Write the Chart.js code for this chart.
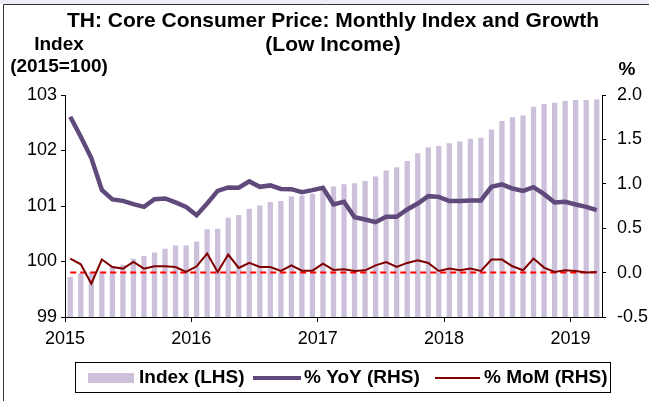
<!DOCTYPE html>
<html>
<head>
<meta charset="utf-8">
<script src="https://cdn.jsdelivr.net/npm/chart.js@4/dist/chart.umd.min.js"></script>
<style>
  html, body { margin: 0; padding: 0; background: #fff; }
  #wrap { position: relative; width: 649px; height: 401px; }
</style>
</head>
<body>
<div id="wrap"><canvas id="c" width="649" height="401"></canvas></div>
<script>
// ---- datos (ene 2015 - mar 2019, mensual) ----
const yearLabels = ["2015", "2016", "2017", "2018", "2019"];
const yearTickPos = [0, 12, 24, 36, 48];

const indexLHS = [
  99.72, 99.79, 99.81, 99.82, 99.92, 99.94, 100.05, 100.10, 100.16, 100.23,
  100.29, 100.29, 100.36, 100.58, 100.59, 100.79, 100.84, 100.95, 101.01, 101.07,
  101.09, 101.17, 101.19, 101.22, 101.28, 101.35, 101.39, 101.41, 101.45, 101.53,
  101.64, 101.70, 101.81, 101.95, 102.06, 102.08, 102.13, 102.16, 102.21, 102.23,
  102.38, 102.53, 102.60, 102.63, 102.79, 102.84, 102.86, 102.89, 102.91, 102.91, 102.92
];

const yoyRHS = [
  1.755, 1.53, 1.29, 0.93, 0.824, 0.808, 0.771, 0.74, 0.827, 0.835,
  0.79, 0.74, 0.647, 0.778, 0.92, 0.959, 0.955, 1.027, 0.966, 0.982,
  0.942, 0.94, 0.906, 0.929, 0.955, 0.767, 0.797, 0.624, 0.598, 0.568,
  0.628, 0.628, 0.711, 0.778, 0.861, 0.853, 0.805, 0.805, 0.812, 0.812,
  0.966, 0.993, 0.947, 0.92, 0.962, 0.883, 0.79, 0.797, 0.767, 0.74, 0.703
];

const momRHS = [
  0.158, 0.094, -0.125, 0.147, 0.063, 0.045, 0.12, 0.045, 0.071, 0.071,
  0.063, 0.007, 0.071, 0.214, 0.007, 0.203, 0.052, 0.109, 0.063, 0.063,
  0.018, 0.082, 0.022, 0.022, 0.101, 0.03, 0.037, 0.018, 0.026, 0.082,
  0.118, 0.063, 0.109, 0.139, 0.109, 0.018, 0.045, 0.026, 0.045, 0.018,
  0.147, 0.147, 0.071, 0.026, 0.158, 0.056, 0.007, 0.026, 0.018, 0.0, 0.007
];

const zeroRef = indexLHS.map(() => 0);

const C_BAR = "#CCC0DA", C_YOY = "#604A7B", C_MOM = "#800000", C_ZERO = "#FF0000";
const FONT = "'Liberation Sans', Arial, sans-serif";

// puntos centrados en cada mes (eje x lineal 0..51)
const pts = (arr) => arr.map((v, i) => ({ x: i + 0.5, y: v }));

// ---- textos fijos: marco, título, unidades, leyenda ----
const decor = {
  id: "decor",
  afterDraw(chart) {
    const ctx = chart.ctx;
    ctx.save();
    // marco
    ctx.fillStyle = "#eceef6";
    ctx.fillRect(0, 0, 649, 4);
    ctx.strokeStyle = "#333";
    ctx.lineWidth = 1;
    ctx.beginPath();
    ctx.moveTo(3.5, 401); ctx.lineTo(3.5, 4.5); ctx.lineTo(649, 4.5);
    ctx.stroke();

    ctx.fillStyle = "#000";
    ctx.textBaseline = "middle";
    ctx.textAlign = "center";
    ctx.font = "bold 21px " + FONT;
    ctx.fillText("TH: Core Consumer Price: Monthly Index and Growth", 333, 21);
    ctx.fillText("(Low Income)", 333, 45);

    ctx.font = "bold 19px " + FONT;
    ctx.fillText("Index", 59, 45);
    ctx.fillText("(2015=100)", 59, 67);
    ctx.fillText("%", 627, 70);

    // leyenda
    ctx.strokeStyle = "#000";
    ctx.lineWidth = 1;
    ctx.strokeRect(75.5, 362.5, 535, 30);
    const ly = 378;
    ctx.fillStyle = C_BAR;
    ctx.fillRect(88, ly - 5, 46, 10);
    ctx.lineCap = "butt";
    ctx.strokeStyle = C_YOY; ctx.lineWidth = 4;
    ctx.beginPath(); ctx.moveTo(253, ly); ctx.lineTo(301, ly); ctx.stroke();
    ctx.strokeStyle = C_MOM; ctx.lineWidth = 2;
    ctx.beginPath(); ctx.moveTo(435, ly); ctx.lineTo(480, ly); ctx.stroke();

    ctx.fillStyle = "#000";
    ctx.textAlign = "left";
    ctx.font = "bold 19px " + FONT;
    ctx.fillText("Index (LHS)", 139, ly);
    ctx.fillText("% YoY (RHS)", 304, ly);
    ctx.fillText("% MoM (RHS)", 484, ly);
    ctx.restore();
  }
};

const tickFont = { family: FONT, size: 18 };

new Chart(document.getElementById("c"), {
  data: {
    datasets: [
      { type: "line", label: "% YoY (RHS)", data: pts(yoyRHS), yAxisID: "yR",
        borderColor: C_YOY, borderWidth: 4.5, pointRadius: 0, tension: 0, order: 0 },
      { type: "line", label: "% MoM (RHS)", data: pts(momRHS), yAxisID: "yR",
        borderColor: C_MOM, borderWidth: 2, pointRadius: 0, tension: 0, order: 1 },
      { type: "line", label: "zero", data: pts(zeroRef), yAxisID: "yR",
        borderColor: C_ZERO, borderWidth: 2, borderDash: [6, 4], pointRadius: 0, order: 2 },
      { type: "bar", label: "Index (LHS)", data: pts(indexLHS), yAxisID: "yL",
        backgroundColor: C_BAR, barPercentage: 0.5, categoryPercentage: 1.0, order: 3 }
    ]
  },
  options: {
    responsive: false,
    animation: false,
    layout: { padding: { top: 95, left: 0, right: 0, bottom: 0 } },
    plugins: { legend: { display: false }, tooltip: { enabled: false } },
    scales: {
      x: {
        type: "linear", min: 0, max: 51, offset: false,
        afterBuildTicks: (s) => { s.ticks = yearTickPos.map(v => ({ value: v })); },
        afterFit: (s) => { s.height = 84; s.paddingLeft = 0; s.paddingRight = 0; },
        ticks: {
          color: "#000", font: tickFont, padding: 6, maxRotation: 0, autoSkip: false,
          callback: (v) => yearLabels[yearTickPos.indexOf(v)]
        },
        grid: { drawOnChartArea: false, offset: false, tickLength: 5, color: "#000" },
        border: { color: "#000", width: 1 }
      },
      yL: {
        position: "left", min: 99, max: 103,
        afterFit: (s) => { s.width = 65; },
        ticks: { stepSize: 1, color: "#000", font: tickFont, padding: 4 },
        grid: { drawOnChartArea: false, tickLength: 4, color: "#000" },
        border: { color: "#000", width: 1 }
      },
      yR: {
        position: "right", min: -0.5, max: 2.0,
        afterFit: (s) => { s.width = 47; },
        ticks: { stepSize: 0.5, color: "#000", font: tickFont, padding: 11,
          callback: (v) => v.toFixed(1) },
        grid: { drawOnChartArea: false, tickLength: 4, color: "#000" },
        border: { color: "#000", width: 1 }
      }
    }
  },
  plugins: [decor]
});
</script>
</body>
</html>
